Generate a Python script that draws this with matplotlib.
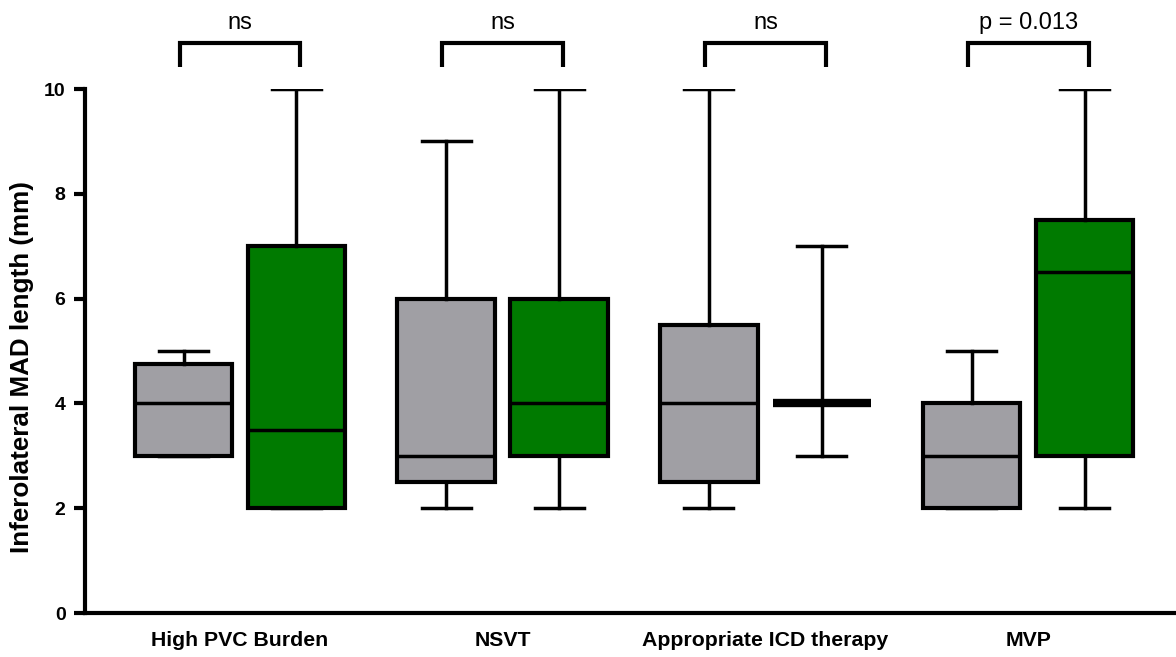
import matplotlib
matplotlib.use("Agg")
import matplotlib.pyplot as plt

plt.rcParams['font.family'] = ['Liberation Sans', 'DejaVu Sans']

categories = ['High PVC Burden', 'NSVT', 'Appropriate ICD therapy', 'MVP']
# (whislo, q1, median, q3, whishi) for each group
gray_stats = [(3, 3, 4, 4.75, 5),
              (2, 2.5, 3, 6, 9),
              (2, 2.5, 4, 5.5, 10),
              (2, 2, 3, 4, 5)]
green_stats = [(2, 2, 3.5, 7, 10),
               (2, 3, 4, 6, 10),
               (3, 4, 4, 4, 7),
               (2, 3, 6.5, 7.5, 10)]
pvalues = ['ns', 'ns', 'ns', 'p = 0.013']

gray_color = '#A09FA4'
green_color = '#007A00'

fig = plt.figure(figsize=(11.76, 6.57), dpi=100)
ax = fig.add_axes([85 / 1176, 44 / 657, 1 - 85 / 1176, 524 / 657])

offset = 0.215
width = 0.372


def to_dicts(stats):
    return [dict(whislo=s[0], q1=s[1], med=s[2], q3=s[3], whishi=s[4], fliers=[])
            for s in stats]


for stats, color, sign in [(gray_stats, gray_color, -1), (green_stats, green_color, 1)]:
    pos = [i + sign * offset for i in range(len(categories))]
    res = ax.bxp(to_dicts(stats), positions=pos, widths=width, patch_artist=True,
                 showfliers=False,
                 boxprops=dict(facecolor=color, edgecolor='black', linewidth=3),
                 medianprops=dict(color='black', linewidth=2.5),
                 whiskerprops=dict(color='black', linewidth=2.5),
                 capprops=dict(color='black', linewidth=2.5),
                 capwidths=width / 2)
    # collapsed boxes (q1 == q3) show as a heavy bar
    for s, med in zip(stats, res['medians']):
        if s[1] == s[3]:
            med.set_linewidth(6)

# significance brackets
for i, txt in enumerate(pvalues):
    x1, x2 = i - 0.23, i + 0.23
    y0, y1 = 10.42, 10.88
    ax.plot([x1, x1, x2, x2], [y0, y1, y1, y0], color='black', lw=3,
            clip_on=False, solid_capstyle='butt', solid_joinstyle='miter')
    ax.text(i, 11.15, txt, ha='center', va='baseline', fontsize=17)

ax.set_xlim(-0.59, 3.563)
ax.set_ylim(0, 10)
ax.set_xticks(range(len(categories)))
ax.set_xticklabels(categories, fontsize=15.3, fontweight='bold')
ax.set_yticks([0, 2, 4, 6, 8, 10])
ax.set_yticklabels(['0', '2', '4', '6', '8', '10'], fontsize=14, fontweight='bold')
ax.tick_params(axis='x', length=0, pad=13)
ax.tick_params(axis='y', length=8, width=3, pad=6)
ax.set_ylabel('Inferolateral MAD length (mm)', fontsize=18.7, fontweight='bold')
ax.yaxis.set_label_coords(-51 / 1091, 0.469)

for side in ['top', 'right']:
    ax.spines[side].set_visible(False)
for side in ['left', 'bottom']:
    ax.spines[side].set_linewidth(3)

fig.savefig('out.png', dpi=100)
